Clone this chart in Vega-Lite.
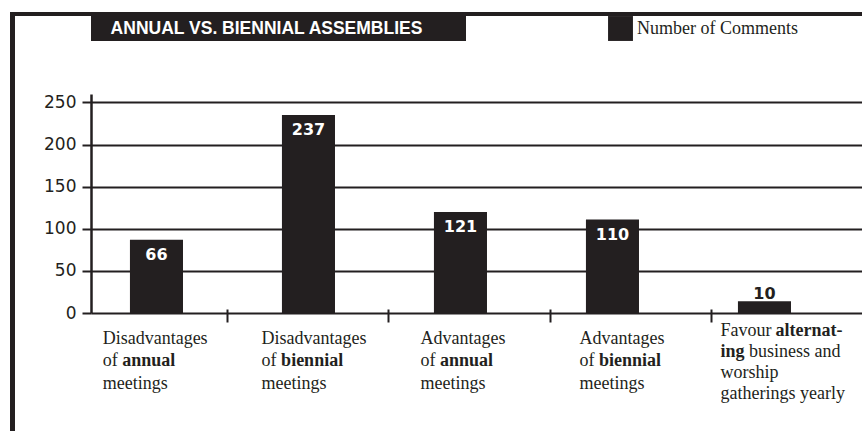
{
  "$schema": "https://vega.github.io/schema/vega-lite/v6.json",
  "background": "white",
  "padding": {"left": 10, "top": 12, "right": 0, "bottom": 0},
  "autosize": {"type": "pad"},
  "config": {"view": {"stroke": null}, "concat": {"spacing": 0}},
  "datasets": {
    "bars": [
      {"category": "Disadvantages of annual meetings", "height": 87, "label": 66},
      {"category": "Disadvantages of biennial meetings", "height": 235, "label": 237},
      {"category": "Advantages of annual meetings", "height": 120, "label": 121},
      {"category": "Advantages of biennial meetings", "height": 111, "label": 110},
      {"category": "Favour alternating business and worship gatherings yearly", "height": 14, "label": 10}
    ],
    "xlabels": [
      {"category": "Disadvantages of annual meetings", "role": "n", "text": "Disadvantages\nof\nmeetings"},
      {"category": "Disadvantages of annual meetings", "role": "b", "text": "annual"},
      {"category": "Disadvantages of biennial meetings", "role": "n", "text": "Disadvantages\nof\nmeetings"},
      {"category": "Disadvantages of biennial meetings", "role": "b", "text": "biennial"},
      {"category": "Advantages of annual meetings", "role": "n", "text": "Advantages\nof\nmeetings"},
      {"category": "Advantages of annual meetings", "role": "b", "text": "annual"},
      {"category": "Advantages of biennial meetings", "role": "n", "text": "Advantages\nof\nmeetings"},
      {"category": "Advantages of biennial meetings", "role": "b", "text": "biennial"},
      {"category": "Favour alternating business and worship gatherings yearly", "role": "fn", "text": "Favour"},
      {"category": "Favour alternating business and worship gatherings yearly", "role": "fb1", "text": "alternat-"},
      {"category": "Favour alternating business and worship gatherings yearly", "role": "fb2", "text": "ing"},
      {"category": "Favour alternating business and worship gatherings yearly", "role": "fn2", "text": "business and"},
      {"category": "Favour alternating business and worship gatherings yearly", "role": "fn3", "text": "worship\ngatherings yearly"}
    ],
    "blank": [{}]
  },
  "columns": 3,
  "align": "each",
  "bounds": "flush",
  "spacing": 0,
  "concat": [
    {"width": 5, "height": 4, "view": {"fill": "#231f20", "stroke": null}, "data": {"name": "blank"}, "mark": {"type": "point", "opacity": 0, "size": 0}},
    {"width": 76, "height": 4, "view": {"fill": "#231f20", "stroke": null}, "data": {"name": "blank"}, "mark": {"type": "point", "opacity": 0, "size": 0}},
    {"width": 772, "height": 4, "view": {"fill": "#231f20", "stroke": null}, "data": {"name": "blank"}, "mark": {"type": "point", "opacity": 0, "size": 0}},

    {"width": 5, "height": 78, "view": {"fill": "#231f20", "stroke": null}, "data": {"name": "blank"}, "mark": {"type": "point", "opacity": 0, "size": 0}},
    {"width": 76, "height": 78, "data": {"name": "blank"}, "mark": {"type": "point", "opacity": 0, "size": 0}},
    {
      "width": 375, "height": 25,
      "view": {"fill": "#231f20", "stroke": null},
      "data": {"name": "blank"},
      "mark": {"type": "text", "align": "center", "baseline": "middle", "dx": -12, "font": "Liberation Sans", "fontWeight": "bold", "fontSize": 17.5, "fill": "#ffffff"},
      "encoding": {"text": {"value": "ANNUAL VS. BIENNIAL ASSEMBLIES"}}
    },

    {"width": 5, "height": 219, "view": {"fill": "#231f20", "stroke": null}, "data": {"name": "blank"}, "mark": {"type": "point", "opacity": 0, "size": 0}},
    {"width": 76, "height": 219, "data": {"name": "blank"}, "mark": {"type": "point", "opacity": 0, "size": 0}},
    {
      "width": 772, "height": 219,
      "layer": [
        {
          "data": {"name": "bars"},
          "layer": [
            {
              "mark": {"type": "bar"},
              "encoding": {
                "x": {
                  "field": "category", "type": "nominal", "axis": null,
                  "scale": {
                    "type": "band",
                    "domain": ["Disadvantages of annual meetings", "Disadvantages of biennial meetings", "Advantages of annual meetings", "Advantages of biennial meetings", "Favour alternating business and worship gatherings yearly"],
                    "paddingInner": 0.651, "paddingOuter": 0.365, "align": 0.351
                  }
                },
                "y": {
                  "field": "height", "type": "quantitative",
                  "scale": {"domain": [0, 250]},
                  "axis": {
                    "values": [0, 50, 100, 150, 200, 250], "title": null,
                    "grid": true, "gridColor": "#231f20", "gridWidth": 2, "gridOpacity": 1,
                    "domain": true, "domainColor": "#231f20", "domainWidth": 2.5,
                    "ticks": true, "tickSize": 9, "tickWidth": 2, "tickColor": "#231f20",
                    "labelFont": "DejaVu Sans", "labelFontSize": 17, "labelColor": "#231f20", "labelPadding": 6
                  }
                },
                "color": {
                  "datum": "Number of Comments", "type": "nominal",
                  "scale": {"range": ["#231f20"]},
                  "legend": {
                    "orient": "none", "legendX": 598, "legendY": 4, "title": null,
                    "symbolType": "square", "symbolSize": 620, "symbolStrokeWidth": 0,
                    "labelFont": "Liberation Serif", "labelFontSize": 18, "labelColor": "#231f20",
                    "labelOffset": 4, "labelLimit": 0, "padding": 0
                  }
                }
              }
            },
            {
              "transform": [{"filter": "datum.height > 30"}],
              "mark": {"type": "text", "align": "center", "baseline": "alphabetic", "dy": 20, "font": "DejaVu Sans", "fontWeight": "bold", "fontSize": 16, "fill": "#ffffff"},
              "encoding": {
                "x": {"field": "category", "type": "nominal"},
                "y": {"field": "height", "type": "quantitative"},
                "text": {"field": "label", "type": "quantitative"}
              }
            },
            {
              "transform": [{"filter": "datum.height <= 30"}],
              "mark": {"type": "text", "align": "center", "baseline": "alphabetic", "dy": -2.5, "font": "DejaVu Sans", "fontWeight": "bold", "fontSize": 16, "fill": "#231f20"},
              "encoding": {
                "x": {"field": "category", "type": "nominal"},
                "y": {"field": "height", "type": "quantitative"},
                "text": {"field": "label", "type": "quantitative"}
              }
            }
          ]
        },
        {
          "data": {"name": "xlabels"},
          "encoding": {
            "x": {
              "field": "category", "type": "nominal", "axis": null,
              "scale": {
                "type": "point",
                "domain": ["Disadvantages of annual meetings", "Disadvantages of biennial meetings", "Advantages of annual meetings", "Advantages of biennial meetings", "Favour alternating business and worship gatherings yearly"],
                "padding": 0.4283, "align": 0.0856
              }
            },
            "y": {"datum": 0, "type": "quantitative"},
            "text": {"field": "text", "type": "nominal"}
          },
          "layer": [
            {
              "transform": [{"filter": "datum.role === 'n'"}],
              "mark": {"type": "text", "align": "left", "baseline": "alphabetic", "dx": 0, "dy": 31, "lineHeight": 22.4, "lineBreak": "\n", "font": "Liberation Serif", "fontSize": 18, "fill": "#231f20"}
            },
            {
              "transform": [{"filter": "datum.role === 'b'"}],
              "mark": {"type": "text", "align": "left", "baseline": "alphabetic", "dx": 19.5, "dy": 53.4, "font": "Liberation Serif", "fontWeight": "bold", "fontSize": 18, "fill": "#231f20"}
            },
            {
              "transform": [{"filter": "datum.role === 'fn'"}],
              "mark": {"type": "text", "align": "left", "baseline": "alphabetic", "dx": -18, "dy": 23, "font": "Liberation Serif", "fontSize": 18, "fill": "#231f20"}
            },
            {
              "transform": [{"filter": "datum.role === 'fb1'"}],
              "mark": {"type": "text", "align": "left", "baseline": "alphabetic", "dx": 37, "dy": 23, "font": "Liberation Serif", "fontWeight": "bold", "fontSize": 18, "fill": "#231f20"}
            },
            {
              "transform": [{"filter": "datum.role === 'fb2'"}],
              "mark": {"type": "text", "align": "left", "baseline": "alphabetic", "dx": -18, "dy": 43.8, "font": "Liberation Serif", "fontWeight": "bold", "fontSize": 18, "fill": "#231f20"}
            },
            {
              "transform": [{"filter": "datum.role === 'fn2'"}],
              "mark": {"type": "text", "align": "left", "baseline": "alphabetic", "dx": 10.5, "dy": 43.8, "font": "Liberation Serif", "fontSize": 18, "fill": "#231f20"}
            },
            {
              "transform": [{"filter": "datum.role === 'fn3'"}],
              "mark": {"type": "text", "align": "left", "baseline": "alphabetic", "dx": -18, "dy": 65, "lineHeight": 20.8, "lineBreak": "\n", "font": "Liberation Serif", "fontSize": 18, "fill": "#231f20"}
            }
          ]
        },
        {
          "data": {"name": "bars"},
          "mark": {"type": "point", "opacity": 0},
          "encoding": {
            "x": {
              "field": "category", "type": "nominal",
              "scale": {
                "type": "point",
                "domain": ["Disadvantages of annual meetings", "Disadvantages of biennial meetings", "Advantages of annual meetings", "Advantages of biennial meetings"],
                "padding": 0.8945, "align": 0.4723
              },
              "axis": {
                "orient": "bottom", "offset": -4, "title": null,
                "domain": false, "labels": false, "grid": false,
                "ticks": true, "tickSize": 13, "tickWidth": 2, "tickColor": "#231f20"
              }
            },
            "y": {"datum": 0, "type": "quantitative"}
          }
        }
      ],
      "resolve": {"scale": {"x": "independent"}}
    },

    {"width": 5, "height": 118, "view": {"fill": "#231f20", "stroke": null}, "data": {"name": "blank"}, "mark": {"type": "point", "opacity": 0, "size": 0}}
  ]
}
